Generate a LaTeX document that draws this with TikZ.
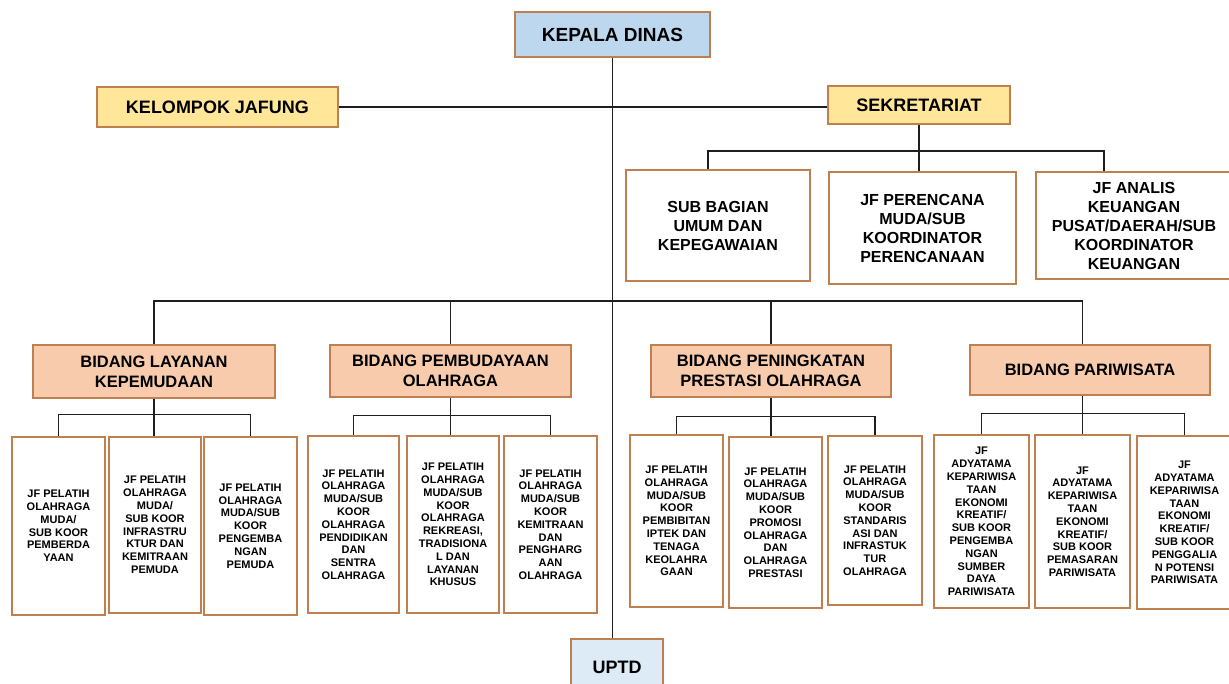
\documentclass[tikz,border=0pt]{standalone}
\usepackage{fontspec}
\setmainfont{Liberation Sans}
\definecolor{bord}{HTML}{C07F4F}
\definecolor{kdblue}{HTML}{BDD7EE}
\definecolor{ublue}{HTML}{DDEBF7}
\definecolor{yel}{HTML}{FFE699}
\definecolor{peach}{HTML}{F8CBAD}
\definecolor{ln}{HTML}{1E1E1E}
\begin{document}
\begin{tikzpicture}[x=1pt,y=-1pt,
  box/.style={draw=bord, line width=2.3pt, inner sep=0pt, align=center, font=\bfseries},
  topbox/.style={box, font=\fontsize{18}{21}\selectfont\bfseries},
  secbox/.style={box, fill=white, font=\fontsize{16}{19}\selectfont\bfseries},
  bidbox/.style={box, fill=peach, font=\fontsize{16.5}{20}\selectfont\bfseries},
  smallbox/.style={box, fill=white, line width=2.7pt, font=\fontsize{11}{12.8}\selectfont\bfseries},
  conn/.style={draw=ln, line width=1.6pt}]
\useasboundingbox (0,0) rectangle (1229,684);
\fill[white] (0,0) rectangle (1229,684);

% top level
\node[topbox, fill=kdblue, minimum width=195, minimum height=45, font=\fontsize{19}{22}\selectfont\bfseries] (kd) at (612.5,34.5) {KEPALA DINAS};
\node[topbox, fill=yel, minimum width=241, minimum height=40] (kj) at (217.5,107) {KELOMPOK JAFUNG};
\node[topbox, fill=yel, minimum width=182, minimum height=38] (sek) at (919,105) {SEKRETARIAT};
\node[topbox, fill=ublue, minimum width=92, minimum height=56] (uptd) at (617,667) {UPTD};

% sekretariat children
\node[secbox, minimum width=184, minimum height=111] (s1) at (718,225.5) {SUB BAGIAN\\UMUM DAN\\KEPEGAWAIAN};
\node[secbox, minimum width=187, minimum height=112] (s2) at (922.5,228) {JF PERENCANA\\MUDA/SUB\\KOORDINATOR\\PERENCANAAN};
\node[secbox, minimum width=196, minimum height=107] (s3) at (1134,225.5) {JF ANALIS\\KEUANGAN\\PUSAT/DAERAH/SUB\\KOORDINATOR\\KEUANGAN};

% bidang
\node[bidbox, minimum width=242, minimum height=53] (b1) at (154,371.5) {BIDANG LAYANAN\\KEPEMUDAAN};
\node[bidbox, minimum width=241, minimum height=52] (b2) at (450.5,371) {BIDANG PEMBUDAYAAN\\OLAHRAGA};
\node[bidbox, minimum width=240, minimum height=52] (b3) at (771,371) {BIDANG PENINGKATAN\\PRESTASI OLAHRAGA};
\node[bidbox, minimum width=240, minimum height=50] (b4) at (1090,370) {BIDANG PARIWISATA};

% layanan children
\node[smallbox, minimum width=93, minimum height=178] (l1) at (58.5,526) {JF PELATIH\\OLAHRAGA\\MUDA/\\SUB KOOR\\PEMBERDA\\YAAN};
\node[smallbox, minimum width=92, minimum height=176] (l2) at (155,525) {JF PELATIH\\OLAHRAGA\\MUDA/\\SUB KOOR\\INFRASTRU\\KTUR DAN\\KEMITRAAN\\PEMUDA};
\node[smallbox, minimum width=93, minimum height=178] (l3) at (250.5,526) {JF PELATIH\\OLAHRAGA\\MUDA/SUB\\KOOR\\PENGEMBA\\NGAN\\PEMUDA};

% pembudayaan children
\node[smallbox, minimum width=91, minimum height=177] (p1) at (353.5,524.5) {JF PELATIH\\OLAHRAGA\\MUDA/SUB\\KOOR\\OLAHRAGA\\PENDIDIKAN\\DAN\\SENTRA\\OLAHRAGA};
\node[smallbox, minimum width=92, minimum height=177] (p2) at (453,524.5) {JF PELATIH\\OLAHRAGA\\MUDA/SUB\\KOOR\\OLAHRAGA\\REKREASI,\\TRADISIONA\\L DAN\\LAYANAN\\KHUSUS};
\node[smallbox, minimum width=93, minimum height=177] (p3) at (550.5,524.5) {JF PELATIH\\OLAHRAGA\\MUDA/SUB\\KOOR\\KEMITRAAN\\DAN\\PENGHARG\\AAN\\OLAHRAGA};

% peningkatan children
\node[smallbox, minimum width=93, minimum height=172] (q1) at (676.5,521) {JF PELATIH\\OLAHRAGA\\MUDA/SUB\\KOOR\\PEMBIBITAN\\IPTEK DAN\\TENAGA\\KEOLAHRA\\GAAN};
\node[smallbox, minimum width=93, minimum height=171] (q2) at (775.5,522.5) {JF PELATIH\\OLAHRAGA\\MUDA/SUB\\KOOR\\PROMOSI\\OLAHRAGA\\DAN\\OLAHRAGA\\PRESTASI};
\node[smallbox, minimum width=94, minimum height=169] (q3) at (875,520.5) {JF PELATIH\\OLAHRAGA\\MUDA/SUB\\KOOR\\STANDARIS\\ASI DAN\\INFRASTUK\\TUR\\OLAHRAGA};

% pariwisata children
\node[smallbox, minimum width=95, minimum height=173] (r1) at (981.5,521.5) {JF\\ADYATAMA\\KEPARIWISA\\TAAN\\EKONOMI\\KREATIF/\\SUB KOOR\\PENGEMBA\\NGAN\\SUMBER\\DAYA\\PARIWISATA};
\node[smallbox, minimum width=95, minimum height=173] (r2) at (1082.5,521.5) {JF\\ADYATAMA\\KEPARIWISA\\TAAN\\EKONOMI\\KREATIF/\\SUB KOOR\\PEMASARAN\\PARIWISATA};
\node[smallbox, minimum width=95, minimum height=173] (r3) at (1184.5,522.5) {JF\\ADYATAMA\\KEPARIWISA\\TAAN\\EKONOMI\\KREATIF/\\SUB KOOR\\PENGGALIA\\N POTENSI\\PARIWISATA};

% connectors
\path[conn] (kd.south) -- (kd.south |- uptd.north);
\path[conn] (kj.east) -- (kj.east -| sek.west);
\path[conn] (sek.south) -- (sek.south |- s2.north);
\path[conn] ([xshift=-10pt]s1.north) -- ++(0,-18) -| ([xshift=-30pt]s3.north);

\path[conn] (b1.north) -- ++(0,-43) -| (b4.north -| r2.north);
\path[conn] (b2.north) -- ++(0,-43);
\path[conn] (b3.north) -- ++(0,-43);

\path[conn] (l1.north) -- ++(0,-21) -| (l3.north);
\path[conn] (b1.south) -- (b1.south |- l2.north);
\path[conn] (p1.north) -- ++(0,-19) -| (p3.north);
\path[conn] (b2.south) -- (b2.south |- p2.north);
\path[conn] (q1.north) -- ++(0,-17) -| (q3.north);
\path[conn] (b3.south) -- (b3.south |- q2.north);
\path[conn] (r1.north) -- ++(0,-20) -| (r3.north);
\path[conn] (b4.south -| r2.north) -- (r2.north);
\end{tikzpicture}
\end{document}
